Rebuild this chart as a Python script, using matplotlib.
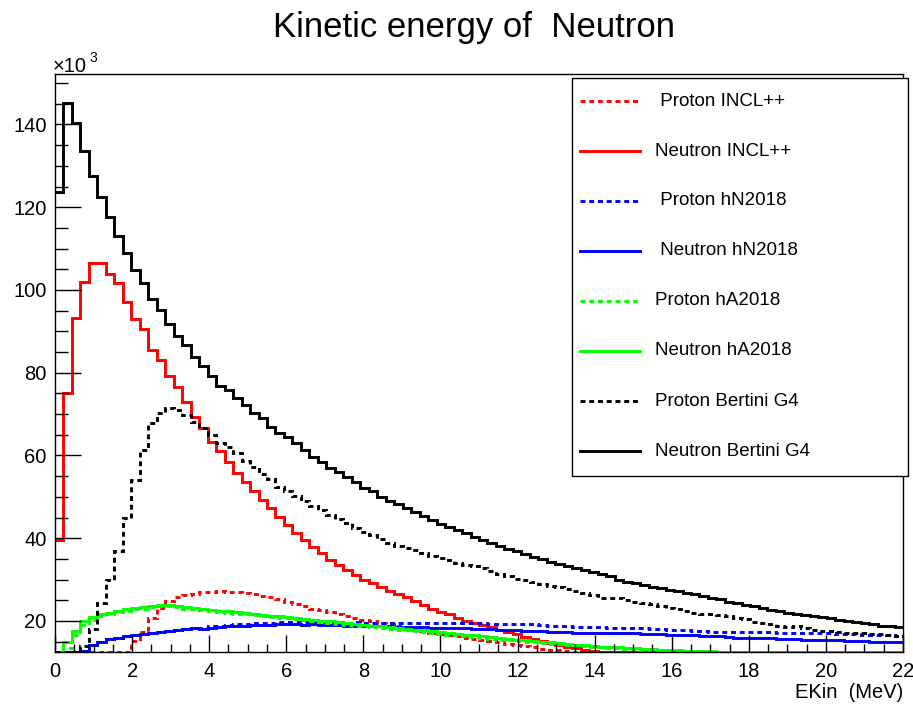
import numpy as np
import matplotlib
matplotlib.use("Agg")
import matplotlib.pyplot as plt
from matplotlib.lines import Line2D
from matplotlib.patches import Rectangle

plt.rcParams['font.family'] = ['Liberation Sans', 'DejaVu Sans']

# histogram contents, in units of 10^3, 100 bins of 0.22 MeV from 0 to 22 MeV
bin_width = 0.22
n_bins = 100

proton_incl = [
    11.0, 11.0, 11.0, 11.0, 11.0, 11.0, 11.0, 11.5, 12.3, 15.1,
    17.4, 20.8, 23.2, 24.8, 25.7, 26.2, 26.6, 26.9, 27.1, 27.2,
    27.1, 27.0, 26.8, 26.5, 26.1, 25.7, 25.2, 24.6, 24.0, 23.5,
    23.0, 22.6, 22.2, 21.7, 21.2, 20.7, 20.2, 19.9, 19.6, 19.2,
    18.8, 18.4, 18.0, 17.6, 17.2, 16.9, 16.7, 16.4, 16.0, 15.7,
    15.4, 15.1, 14.8, 14.5, 14.2, 13.9, 13.6, 13.3, 13.1, 12.9,
    12.7, 12.4, 12.3, 12.2, 12.1, 12.0, 12.0, 11.9, 11.9, 11.8,
    11.8, 11.7, 11.7, 11.6, 11.6, 11.5, 11.5, 11.4, 11.4, 11.3,
    11.3, 11.2, 11.2, 11.1, 11.1, 11.0, 11.0, 11.0, 10.9, 10.9,
    10.9, 10.8, 10.8, 10.8, 10.7, 10.7, 10.7, 10.6, 10.6, 10.6,
]
neutron_incl = [
    39.6, 75.1, 93.2, 101.9, 106.5, 106.5, 103.9, 101.6, 97.2, 92.9,
    90.5, 85.6, 83.1, 79.2, 76.6, 73.0, 69.4, 66.6, 63.3, 61.1,
    58.5, 55.7, 53.6, 51.5, 49.3, 47.2, 45.2, 43.2, 41.2, 39.5,
    37.9, 36.4, 34.8, 33.6, 32.4, 31.2, 30.0, 29.1, 28.1, 27.3,
    26.6, 25.7, 24.8, 23.9, 23.0, 22.2, 21.6, 20.8, 20.1, 19.4,
    19.0, 18.5, 17.9, 17.4, 16.8, 16.2, 15.6, 15.1, 14.7, 14.3,
    13.8, 13.4, 13.0, 12.7, 12.5, 12.4, 12.3, 12.2, 12.1, 12.0,
    11.9, 11.8, 11.7, 11.6, 11.5, 11.4, 11.3, 11.2, 11.1, 11.0,
    10.9, 10.8, 10.7, 10.6, 10.5, 10.4, 10.3, 10.2, 10.1, 10.0,
    9.9, 9.8, 9.7, 9.6, 9.5, 9.4, 9.3, 9.2, 9.1, 9.0,
]
proton_hn = [
    10.0, 11.0, 12.0, 12.8, 14.2, 15.0, 15.6, 15.9, 16.3, 16.6,
    16.9, 17.1, 17.3, 17.6, 17.9, 18.1, 18.4, 18.4, 18.7, 18.9,
    19.0, 19.2, 19.3, 19.4, 19.5, 19.6, 19.7, 19.8, 19.7, 19.7,
    19.8, 19.7, 19.7, 19.7, 19.6, 19.7, 19.6, 19.6, 19.6, 19.6,
    19.6, 19.5, 19.5, 19.5, 19.5, 19.4, 19.5, 19.4, 19.4, 19.4,
    19.4, 19.3, 19.3, 19.3, 19.3, 19.2, 19.2, 19.0, 18.9, 18.8,
    18.7, 18.6, 18.6, 18.5, 18.5, 18.4, 18.4, 18.3, 18.3, 18.2,
    18.1, 18.0, 17.9, 17.8, 17.7, 17.6, 17.5, 17.4, 17.4, 17.4,
    17.4, 17.4, 17.4, 17.3, 17.3, 17.2, 17.2, 17.1, 17.1, 17.1,
    17.0, 17.0, 16.9, 16.9, 16.8, 16.7, 16.7, 16.6, 16.5, 16.3,
]
neutron_hn = [
    10.0, 11.0, 12.0, 12.8, 14.3, 15.0, 15.6, 15.9, 16.3, 16.6,
    16.9, 17.1, 17.3, 17.5, 17.8, 18.0, 18.2, 18.1, 18.4, 18.6,
    18.7, 18.8, 18.9, 19.0, 19.0, 19.1, 19.2, 19.3, 19.2, 19.1,
    19.2, 19.1, 19.0, 19.0, 18.9, 18.9, 18.8, 18.8, 18.7, 18.7,
    18.6, 18.6, 18.5, 18.5, 18.4, 18.3, 18.3, 18.2, 18.2, 18.1,
    18.0, 18.0, 17.9, 17.8, 17.7, 17.6, 17.5, 17.5, 17.4, 17.3,
    17.3, 17.2, 17.2, 17.2, 17.2, 17.1, 17.1, 17.1, 17.0, 16.9,
    16.9, 16.8, 16.7, 16.7, 16.6, 16.6, 16.4, 16.3, 16.3, 16.1,
    16.0, 16.0, 15.9, 15.9, 15.8, 15.7, 15.7, 15.6, 15.5, 15.5,
    15.4, 15.3, 15.3, 15.2, 15.2, 15.1, 15.0, 15.0, 14.9, 14.8,
]
proton_ha = [
    11.0, 13.5, 16.5, 19.0, 20.3, 21.1, 21.6, 22.1, 22.5, 22.8,
    23.0, 23.3, 23.5, 23.5, 23.3, 23.0, 22.8, 22.6, 22.4, 22.2,
    22.0, 21.8, 21.6, 21.4, 21.2, 21.0, 20.8, 20.6, 20.4, 20.2,
    20.0, 19.8, 19.5, 19.3, 19.1, 18.9, 18.7, 18.5, 18.3, 18.1,
    17.9, 17.7, 17.5, 17.3, 17.1, 16.9, 16.7, 16.5, 16.3, 16.1,
    15.9, 15.7, 15.5, 15.3, 15.2, 15.0, 14.9, 14.7, 14.5, 14.4,
    14.2, 14.1, 13.9, 13.8, 13.6, 13.5, 13.4, 13.3, 13.2, 13.1,
    13.0, 12.9, 12.8, 12.8, 12.7, 12.6, 12.5, 12.4, 12.3, 12.2,
    12.1, 12.0, 12.0, 11.9, 11.9, 11.8, 11.8, 11.7, 11.7, 11.6,
    11.6, 11.5, 11.5, 11.4, 11.4, 11.3, 11.3, 11.2, 11.2, 11.1,
]
neutron_ha = [
    11.0, 15.0, 17.5, 20.0, 21.0, 21.6, 22.0, 22.5, 22.9, 23.2,
    23.4, 23.6, 23.8, 23.8, 23.6, 23.3, 23.1, 22.9, 22.7, 22.5,
    22.4, 22.1, 21.9, 21.7, 21.5, 21.3, 21.1, 20.9, 20.7, 20.5,
    20.3, 20.1, 19.9, 19.7, 19.5, 19.3, 19.1, 18.9, 18.7, 18.5,
    18.3, 18.1, 17.9, 17.7, 17.5, 17.3, 17.1, 16.9, 16.7, 16.5,
    16.3, 16.1, 15.9, 15.7, 15.5, 15.3, 15.2, 15.0, 14.8, 14.6,
    14.4, 14.3, 14.1, 13.9, 13.8, 13.7, 13.6, 13.5, 13.4, 13.3,
    13.2, 13.1, 13.0, 12.9, 12.8, 12.8, 12.7, 12.7, 12.5, 12.4,
    12.3, 12.2, 12.1, 12.0, 11.9, 11.8, 11.7, 11.6, 11.5, 11.4,
    11.3, 11.2, 11.1, 11.0, 10.9, 10.8, 10.7, 10.6, 10.5, 10.4,
]
proton_bertini = [
    10.0, 11.0, 12.0, 14.0, 18.0, 24.4, 30.0, 37.0, 44.9, 54.1,
    61.3, 67.9, 70.2, 71.4, 71.1, 69.8, 68.0, 66.6, 65.0, 63.1,
    62.1, 60.5, 58.7, 57.1, 55.6, 54.2, 52.4, 51.3, 50.3, 49.1,
    47.9, 46.7, 45.5, 44.6, 43.6, 42.5, 41.6, 40.8, 39.9, 38.8,
    38.0, 37.6, 37.1, 36.4, 35.7, 35.2, 34.8, 34.0, 33.6, 33.2,
    32.7, 32.1, 31.4, 30.9, 30.2, 29.8, 29.4, 28.9, 28.5, 28.1,
    27.8, 27.3, 26.8, 26.2, 25.6, 25.6, 25.5, 25.0, 24.7, 24.4,
    24.0, 23.7, 23.2, 22.8, 22.4, 22.0, 21.7, 21.6, 21.4, 21.1,
    20.8, 20.4, 19.8, 19.6, 19.3, 18.8, 18.5, 18.7, 18.2, 17.9,
    17.6, 17.5, 17.3, 17.2, 17.1, 17.0, 16.9, 16.8, 16.6, 16.4,
]
neutron_bertini = [
    123.7, 145.2, 140.4, 133.7, 127.6, 122.4, 117.7, 113.0, 108.9, 104.8,
    101.6, 97.8, 95.2, 91.8, 88.9, 86.7, 83.9, 81.6, 79.2, 76.8,
    75.8, 73.8, 72.2, 70.2, 69.0, 67.0, 65.4, 64.5, 62.9, 61.3,
    59.7, 58.5, 56.9, 56.1, 54.9, 53.7, 52.1, 51.3, 50.0, 49.1,
    48.2, 47.3, 46.3, 45.3, 44.4, 43.5, 42.6, 41.9, 41.2, 40.4,
    39.6, 38.8, 38.1, 37.4, 36.8, 36.2, 35.5, 34.9, 34.3, 33.8,
    33.3, 32.7, 32.2, 31.8, 31.3, 30.8, 30.0, 29.5, 29.1, 28.7,
    28.3, 28.0, 27.5, 27.2, 26.8, 26.5, 26.1, 25.6, 25.2, 24.6,
    24.3, 23.9, 23.6, 23.1, 22.7, 22.4, 22.0, 21.7, 21.4, 21.1,
    20.9, 20.6, 20.3, 20.0, 19.7, 19.5, 19.2, 18.9, 18.7, 18.5,
]

labels = [" Proton INCL++", "Neutron INCL++", " Proton hN2018", " Neutron hN2018",
          "Proton hA2018", "Neutron hA2018", "Proton Bertini G4", "Neutron Bertini G4"]
series = [proton_incl, neutron_incl, proton_hn, neutron_hn,
          proton_ha, neutron_ha, proton_bertini, neutron_bertini]
colors = ["#ff0000", "#ff0000", "#0000ff", "#0000ff",
          "#00ff00", "#00ff00", "#000000", "#000000"]
dotted = (0, (1.7, 1.3))
styles = [dotted, "-", dotted, "-", dotted, "-", dotted, "-"]

W, H = 913, 707
def fx(px):
    return px / W
def fy(py):
    return 1 - py / H

fig = plt.figure(figsize=(W / 100, H / 100), dpi=100)
ax = fig.add_axes([fx(55), fy(652), (903 - 55) / W, (652 - 74) / H])

ymin, ymax = 12.5, 152.2
edges = np.arange(n_bins + 1) * bin_width
for vals, c, ls in zip(series, colors, styles):
    v = np.clip(np.array(vals), ymin, None)
    ax.stairs(v, edges, baseline=None, color=c, linestyle=ls, linewidth=2.1)

ax.set_xlim(0, 22)
ax.set_ylim(ymin, ymax)
ax.set_xticks(np.arange(0, 23, 2))
ax.set_xticks(np.arange(0, 22.01, 0.5), minor=True)
ax.set_yticks(np.arange(20, 141, 20))
ax.set_yticks(np.arange(15, 152, 5), minor=True)
ax.tick_params(axis='both', which='both', direction='in', top=False, right=False)
ax.tick_params(axis='x', which='major', length=12, width=1, labelsize=14.5, pad=7)
ax.tick_params(axis='x', which='minor', length=6, width=1)
ax.tick_params(axis='y', which='major', length=19, width=1, labelsize=14.5, pad=6)
ax.tick_params(axis='y', which='minor', length=9, width=1)
for s in ax.spines.values():
    s.set_linewidth(1)

fig.text(fx(474), fy(27), "Kinetic energy of  Neutron", ha='center', va='center', fontsize=25)
fig.text(fx(903), fy(692), "EKin  (MeV)", ha='right', va='center', fontsize=14.5)
fig.text(fx(53), fy(66), "\u00d710", ha='left', va='center', fontsize=14.5)
fig.text(fx(89), fy(58), "3", ha='left', va='center', fontsize=10)

# legend box
fig.add_artist(Rectangle((fx(572), fy(476)), (908 - 572) / W, (476 - 78) / H,
                         transform=fig.transFigure, facecolor='white',
                         edgecolor='black', linewidth=1, zorder=5))
for i, (lab, c, ls) in enumerate(zip(labels, colors, styles)):
    yy = fy(101 + 50 * i)
    fig.add_artist(Line2D([fx(580), fx(640)], [yy, yy], transform=fig.transFigure,
                          color=c, linestyle=ls, linewidth=2.1, zorder=6))
    fig.text(fx(655), yy, lab, ha='left', va='center', fontsize=13.5, zorder=6)

fig.savefig("out.png", dpi=100)
